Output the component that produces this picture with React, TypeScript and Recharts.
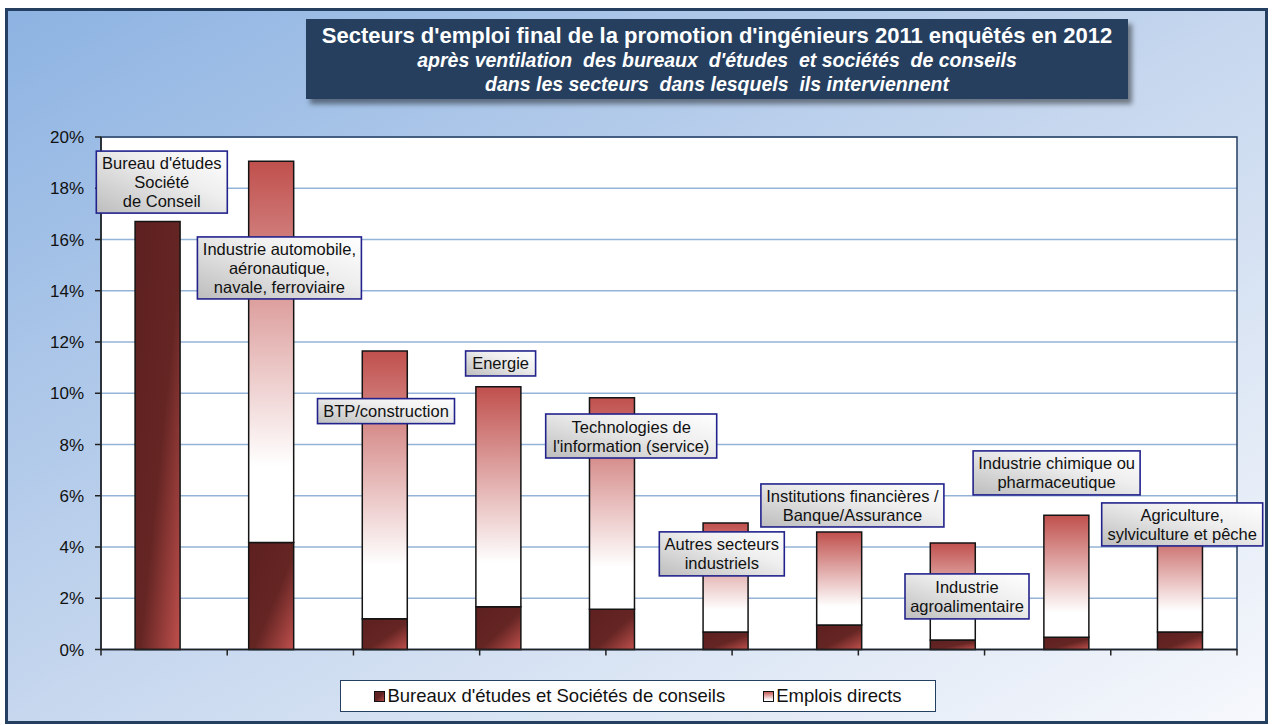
import React from "react";
import {
  ComposedChart,
  Bar,
  Line,
  XAxis,
  YAxis,
  CartesianGrid,
  ReferenceArea,
  LabelList,
  Legend,
} from "recharts";

const FONT = '"Liberation Sans", Arial, sans-serif';

const CATEGORIES = [
  "Bureau d'études Société de Conseil",
  "Industrie automobile, aéronautique, navale, ferroviaire",
  "BTP/construction",
  "Energie",
  "Technologies de l'information (service)",
  "Autres secteurs industriels",
  "Institutions financières / Banque/Assurance",
  "Industrie agroalimentaire",
  "Industrie chimique ou pharmaceutique",
  "Agriculture, sylviculture et pêche",
];

const LABEL_LINES = [
  ["Bureau d'études", "Société", "de Conseil"],
  ["Industrie automobile,", "aéronautique,", "navale, ferroviaire"],
  ["BTP/construction"],
  ["Energie"],
  ["Technologies de", "l'information (service)"],
  ["Autres secteurs", "industriels"],
  ["Institutions financières /", "Banque/Assurance"],
  ["Industrie", "agroalimentaire"],
  ["Industrie chimique ou", "pharmaceutique"],
  ["Agriculture,", "sylviculture et pêche"],
];

// % of the promotion
const BUREAUX = [16.7, 4.18, 1.2, 1.67, 1.57, 0.68, 0.96, 0.37, 0.48, 0.68];
const DIRECTS = [0, 14.87, 10.45, 8.58, 8.25, 4.26, 3.63, 3.79, 4.76, 4.12];

const Y_TICKS = [0, 2, 4, 6, 8, 10, 12, 14, 16, 18, 20];
const EDGE_TICKS = [0, 1, 2, 3, 4, 5, 6, 7, 8, 9, 10];

const SERIES_NAMES = ["Bureaux d'études et Sociétés de conseils", "Emplois directs"];

// where each sector's caption box sits: top edge in % units, offset from bar centre, box size
const LABEL_LAYOUT = [
  { top: 19.45, dx: 4, w: 131, h: 62 },
  { top: 16.1, dx: 8, w: 164, h: 62 },
  { top: 9.79, dx: 1, w: 137, h: 25 },
  { top: 11.65, dx: 2, w: 70, h: 25 },
  { top: 9.19, dx: 19, w: 171, h: 44 },
  { top: 4.59, dx: -4, w: 125, h: 44 },
  { top: 6.46, dx: 13, w: 183, h: 43 },
  { top: 2.95, dx: 14, w: 124, h: 45 },
  { top: 7.75, dx: -10, w: 167, h: 44 },
  { top: 5.72, dx: 2, w: 161, h: 43 },
];

const data = CATEGORIES.map((name, i) => ({
  name,
  bureaux: BUREAUX[i],
  directs: DIRECTS[i],
  labelTop: LABEL_LAYOUT[i].top,
}));

function SectorLabel(props: any) {
  const vb = props.viewBox || {};
  const px = vb.x ?? props.x;
  const py = vb.y ?? props.y;
  const i = props.index;
  if (px == null || py == null || i == null) return null;
  const box = LABEL_LAYOUT[i];
  const lines = LABEL_LINES[i];
  const left = px + box.dx - box.w / 2;
  const mid = py + box.h / 2;
  return (
    <g>
      <rect
        x={left}
        y={py}
        width={box.w}
        height={box.h}
        fill="url(#gLabel)"
        stroke="#22228c"
        strokeWidth={1.6}
      />
      <text
        x={left + box.w / 2}
        textAnchor="middle"
        fontFamily={FONT}
        fontSize={16.5}
        fill="#111"
      >
        {lines.map((ln, k) => (
          <tspan
            key={k}
            x={left + box.w / 2}
            y={mid + (k - (lines.length - 1) / 2) * 19}
            dominantBaseline="central"
          >
            {ln}
          </tspan>
        ))}
      </text>
    </g>
  );
}

function LegendBox(props: any) {
  const items = (props.payload || []).filter((p: any) => p.type !== "none");
  return (
    <div
      style={{
        boxSizing: "border-box",
        width: 596,
        height: 32,
        background: "#fff",
        border: "1.5px solid #243f60",
        display: "flex",
        alignItems: "center",
        justifyContent: "center",
        gap: 38,
        fontFamily: FONT,
        fontSize: 18.5,
        color: "#111",
      }}
    >
      {items.map((it: any) => (
        <span key={it.value} style={{ display: "flex", alignItems: "center" }}>
          <svg width={11} height={11} style={{ marginRight: 2 }}>
            <rect
              x={0.5}
              y={0.5}
              width={10}
              height={10}
              fill={it.value === SERIES_NAMES[0] ? "url(#gBureauxIcon)" : "url(#gDirectsIcon)"}
              stroke="#111"
              strokeWidth={1}
            />
          </svg>
          {it.value}
        </span>
      ))}
    </div>
  );
}

export default function App() {
  return (
    <div style={{ position: "absolute", left: 0, top: 0, width: 1272, height: 725, background: "#fff" }}>
      <div
        style={{
          position: "absolute",
          left: 5,
          top: 8,
          width: 1263,
          height: 716,
          boxSizing: "border-box",
          border: "3px solid #243f60",
          background: "linear-gradient(to bottom right, #8db3e2 0%, #c6d7ee 50%, #f6f8fc 100%)",
        }}
      />
      <div style={{ position: "absolute", left: 0, top: 0 }}>
        <ComposedChart
          width={1272}
          height={725}
          data={data}
          margin={{ top: 137, right: 35, bottom: 65.5, left: 41 }}
          barCategoryGap="30%"
        >
          <defs>
            <linearGradient id="gBureaux" x1="0" y1="0" x2="1" y2="1">
              <stop offset="0%" stopColor="#5e2020" />
              <stop offset="55%" stopColor="#642523" />
              <stop offset="100%" stopColor="#c0504d" />
            </linearGradient>
            <linearGradient id="gDirects" x1="0" y1="0" x2="0" y2="1">
              <stop offset="0%" stopColor="#c0504d" />
              <stop offset="80%" stopColor="#ffffff" />
              <stop offset="100%" stopColor="#ffffff" />
            </linearGradient>
            <linearGradient id="gLabel" x1="0" y1="1" x2="1" y2="0">
              <stop offset="0%" stopColor="#bdbdbd" />
              <stop offset="60%" stopColor="#eeeeee" />
              <stop offset="100%" stopColor="#ffffff" />
            </linearGradient>
          </defs>
          <CartesianGrid vertical={false} stroke="#95b3d7" strokeWidth={1.3} fill="#fff" />
          <XAxis
            xAxisId="edges"
            type="number"
            domain={[0, 10]}
            ticks={EDGE_TICKS}
            tickFormatter={() => ""}
            tickSize={6}
            height={10}
            axisLine={{ stroke: "#222", strokeWidth: 1.5 }}
            tickLine={{ stroke: "#222", strokeWidth: 1.5 }}
          />
          <XAxis dataKey="name" hide height={0} />
          <YAxis
            domain={[0, 20]}
            ticks={Y_TICKS}
            width={60}
            tickSize={6}
            tickMargin={11}
            tickFormatter={(v: number) => `${v}%`}
            tick={{ fontSize: 17, fill: "#111", fontFamily: FONT }}
            axisLine={{ stroke: "#222", strokeWidth: 1.5 }}
            tickLine={{ stroke: "#222", strokeWidth: 1.5 }}
          />
          <ReferenceArea y1={0} y2={20} fill="none" stroke="#243f60" strokeWidth={1.5} />
          <Bar
            dataKey="bureaux"
            name={SERIES_NAMES[0]}
            stackId="s"
            fill="url(#gBureaux)"
            stroke="#141414"
            strokeWidth={1.5}
            isAnimationActive={false}
          />
          <Bar
            dataKey="directs"
            name={SERIES_NAMES[1]}
            stackId="s"
            fill="url(#gDirects)"
            stroke="#141414"
            strokeWidth={1.5}
            isAnimationActive={false}
          />
          <Line
            dataKey="labelTop"
            stroke="none"
            dot={false}
            activeDot={false}
            legendType="none"
            isAnimationActive={false}
          >
            <LabelList dataKey="labelTop" content={SectorLabel} />
          </Line>
          <Legend
            layout="horizontal"
            verticalAlign="middle"
            align="center"
            content={LegendBox}
            wrapperStyle={{ left: 340, top: 680, width: 596, height: 32 }}
          />
        </ComposedChart>
      </div>
      <svg width={0} height={0} style={{ position: "absolute" }}>
        <defs>
          <linearGradient id="gBureauxIcon" x1="0" y1="0" x2="1" y2="1">
            <stop offset="0%" stopColor="#5e2020" />
            <stop offset="50%" stopColor="#632523" />
            <stop offset="100%" stopColor="#c0504d" />
          </linearGradient>
          <linearGradient id="gDirectsIcon" x1="0" y1="0" x2="0" y2="1">
            <stop offset="0%" stopColor="#c0504d" />
            <stop offset="85%" stopColor="#ffffff" />
          </linearGradient>
        </defs>
      </svg>
      <div
        style={{
          position: "absolute",
          left: 306,
          top: 19,
          width: 822,
          height: 80,
          boxSizing: "border-box",
          background: "#263f5f",
          boxShadow: "4px 5px 5px rgba(0,0,0,0.45)",
          color: "#fff",
          fontFamily: FONT,
          textAlign: "center",
          paddingTop: 5,
          lineHeight: "24px",
          whiteSpace: "pre",
        }}
      >
        <div style={{ fontSize: 22, fontWeight: "bold" }}>
          Secteurs d'emploi final de la promotion d'ingénieurs 2011 enquêtés en 2012
        </div>
        <div style={{ fontSize: 19.5, fontWeight: "bold", fontStyle: "italic" }}>
          {"après ventilation  des bureaux  d'études  et sociétés  de conseils"}
        </div>
        <div style={{ fontSize: 19.5, fontWeight: "bold", fontStyle: "italic" }}>
          {"dans les secteurs  dans lesquels  ils interviennent"}
        </div>
      </div>
    </div>
  );
}
